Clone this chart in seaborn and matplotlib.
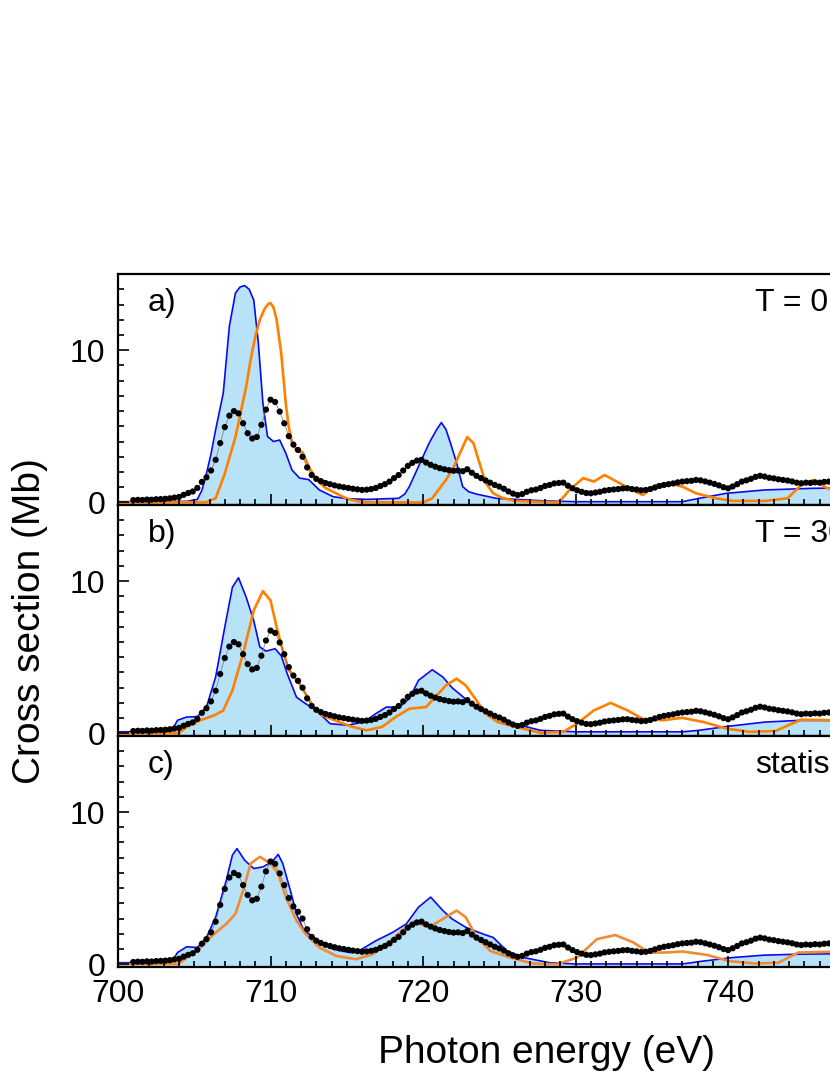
import numpy as np
import matplotlib
matplotlib.use("Agg")
import matplotlib.pyplot as plt
import seaborn as sns
from matplotlib.ticker import MultipleLocator

sns.set_theme(style="ticks")
plt.rcParams['font.family'] = ['Liberation Sans', 'DejaVu Sans']
for key in ['text.color', 'axes.labelcolor', 'xtick.color', 'ytick.color', 'axes.edgecolor']:
    plt.rcParams[key] = 'black'

# experiment (same in all panels), photon energy grid in eV and cross section in Mb
exp_x = np.round(np.arange(701.0, 746.95, 0.3), 2)
exp_y = [0.15, 0.17, 0.16, 0.19, 0.18, 0.21, 0.22, 0.24, 0.27, 0.32,
         0.36, 0.5, 0.62, 0.72, 0.95, 1.35, 1.65, 2.1, 2.8, 3.9,
         4.95, 5.7, 6.0, 5.85, 5.2, 4.55, 4.2, 4.3, 5.1, 6.1,
         6.75, 6.6, 5.97, 5.2, 4.35, 3.8, 3.45, 3.0, 2.3, 1.8,
         1.55, 1.4, 1.28, 1.2, 1.12, 1.05, 1.0, 0.95, 0.9, 0.86,
         0.82, 0.84, 0.88, 0.95, 1.08, 1.2, 1.37, 1.6, 1.8, 2.1,
         2.4, 2.6, 2.75, 2.8, 2.62, 2.47, 2.35, 2.25, 2.18, 2.12,
         2.08, 2.1, 2.05, 2.18, 1.95, 1.75, 1.6, 1.45, 1.3, 1.15,
         1.04, 0.9, 0.72, 0.58, 0.49, 0.55, 0.7, 0.8, 0.85, 0.95,
         1.08, 1.15, 1.25, 1.28, 1.3, 1.1, 0.93, 0.8, 0.7, 0.62,
         0.6, 0.65, 0.7, 0.78, 0.82, 0.85, 0.88, 0.92, 0.93, 0.88,
         0.85, 0.8, 0.82, 0.88, 0.98, 1.08, 1.15, 1.2, 1.25, 1.32,
         1.37, 1.4, 1.42, 1.48, 1.45, 1.38, 1.3, 1.22, 1.12, 1.0,
         0.93, 1.05, 1.2, 1.37, 1.45, 1.55, 1.68, 1.75, 1.7, 1.62,
         1.58, 1.52, 1.48, 1.44, 1.38, 1.3, 1.26, 1.3, 1.28, 1.32,
         1.3, 1.35, 1.37, 1.33]

# a) T = 0 K
blue_x_a = [700, 704.5, 705.2, 705.5, 705.8, 706.1, 706.4, 706.9, 707.3, 707.7, 708.0, 708.3,
            708.6, 708.9, 709.2, 709.5, 709.8, 710.2, 710.6, 711.0, 711.4, 711.9, 712.5, 713.2,
            714.1, 715.0, 716.3, 718.4, 718.8, 719.1, 719.7, 720.4, 720.9, 721.2, 721.5, 721.8,
            722.2, 722.6, 723.0, 723.5, 724.8, 726.1, 728.0, 730.0, 737.0, 738.1, 739.9, 742.4,
            745.6, 748.0]
blue_y_a = [0.05, 0.07, 0.2, 0.8, 1.9, 3.2, 4.77, 7.18, 11.57, 13.76, 14.15, 14.25,
            14.0, 13.3, 10.47, 6.53, 4.33, 4.0, 4.1, 3.24, 2.14, 1.6, 1.5, 0.82,
            0.38, 0.25, 0.2, 0.27, 0.55, 1.04, 2.36, 3.9, 4.8, 5.25, 4.8, 3.9,
            2.6, 1.04, 0.7, 0.55, 0.27, 0.2, 0.1, 0.05, 0.05, 0.27, 0.6, 0.82,
            0.93, 0.95]
orange_x_a = [700, 705.8, 706.4, 707.0, 707.7, 708.4, 708.7, 709.0, 709.3, 709.6, 709.85, 710.0,
              710.2, 710.4, 710.7, 711.0, 711.2, 711.4, 711.7, 712.1, 712.5, 713.0, 713.6, 714.3,
              715.0, 716.0, 720.0, 720.6, 721.5, 722.0, 722.4, 722.9, 723.3, 723.7, 724.1, 724.6,
              725.2, 726.0, 728.9, 729.6, 730.5, 731.2, 731.9, 732.7, 733.5, 734.4, 735.3, 736.1,
              737.0, 737.9, 739.2, 740.3, 742.4, 743.9, 744.8, 745.6, 746.3, 747.5]
orange_y_a = [0, 0.02, 0.27, 1.9, 4.3, 7.6, 9.4, 10.9, 12.0, 12.7, 13.05, 13.1,
              12.8, 12.0, 9.8, 6.5, 4.9, 4.0, 3.4, 3.3, 2.36, 1.5, 0.95, 0.6,
              0.25, 0.02, 0.0, 0.27, 1.48, 2.3, 3.2, 4.3, 3.9, 2.6, 1.3, 0.6,
              0.3, 0.1, 0.0, 0.82, 1.6, 1.37, 1.8, 1.37, 0.93, 0.49, 1.15, 1.26,
              1.04, 0.6, 0.27, 0.1, 0.1, 0.27, 1.15, 1.48, 1.04, 0.5]

# b) T = 300 K
blue_x_b = [700, 703.5, 703.9, 704.5, 705.2, 705.8, 706.4, 707.0, 707.5, 707.9, 708.4, 708.9,
            709.3, 709.7, 710.3, 710.7, 711.1, 711.7, 712.3, 713.0, 713.9, 715.0, 716.1, 716.9,
            717.6, 718.4, 719.1, 719.7, 720.6, 721.3, 721.9, 722.9, 723.9, 725.0, 726.1, 727.7,
            730.0, 737.0, 738.1, 739.9, 742.4, 744.6, 748.0]
blue_y_b = [0.1, 0.12, 0.86, 1.07, 1.1, 1.73, 3.7, 6.98, 9.6, 10.22, 8.95, 7.4,
            5.67, 5.4, 5.56, 5.1, 3.9, 2.38, 1.95, 1.51, 0.64, 0.53, 0.74, 1.29,
            1.73, 1.7, 2.28, 3.48, 4.18, 3.7, 3.0, 2.17, 1.51, 1.07, 0.6, 0.2,
            0.1, 0.1, 0.2, 0.45, 0.74, 0.85, 0.85]
orange_x_b = [700, 704.0, 704.5, 705.4, 706.3, 706.9, 707.5, 708.2, 708.9, 709.5, 710.0, 710.4,
              710.8, 711.2, 711.9, 712.3, 712.8, 713.4, 714.5, 715.4, 716.3, 717.3, 718.2, 719.1,
              720.2, 720.8, 721.5, 722.2, 722.8, 723.5, 724.1, 724.9, 726.1, 727.7, 729.2, 730.1,
              731.2, 732.3, 733.4, 734.4, 735.7, 737.0, 738.4, 739.9, 741.4, 743.1, 744.2, 744.8,
              747.5]
orange_y_b = [0, 0.02, 0.42, 0.86, 1.18, 1.5, 2.82, 5.23, 8.08, 9.34, 8.73, 6.98,
              5.45, 4.14, 3.26, 2.6, 1.73, 1.18, 0.74, 0.42, 0.2, 0.42, 1.07, 1.62,
              1.73, 2.38, 3.15, 3.59, 3.15, 2.17, 1.29, 0.74, 0.42, 0.04, 0.1, 0.64,
              1.51, 2.0, 1.51, 0.96, 0.86, 1.02, 0.74, 0.31, 0.1, 0.15, 0.64, 0.9,
              0.85]

# c) statistical
blue_x_c = [700, 703.5, 703.9, 704.5, 705.2, 705.8, 706.4, 707.1, 707.5, 707.8, 708.3, 708.9,
            709.5, 710.1, 710.5, 710.8, 711.3, 711.7, 712.2, 713.0, 714.1, 715.2, 715.8, 716.9,
            718.0, 718.9, 719.7, 720.5, 721.3, 721.9, 722.8, 723.9, 724.6, 725.5, 726.6, 728.3,
            730.0, 737.0, 738.3, 740.3, 742.4, 744.6, 748.0]
blue_y_c = [0.1, 0.12, 0.77, 1.15, 1.1, 1.76, 3.09, 5.52, 7.17, 7.6, 6.84, 6.29,
            6.4, 6.73, 7.22, 6.62, 4.85, 3.31, 2.2, 1.65, 0.99, 0.77, 0.88, 1.54,
            2.09, 2.65, 3.75, 4.41, 3.53, 2.98, 2.43, 2.0, 1.76, 0.88, 0.44, 0.1,
            0.02, 0.02, 0.2, 0.44, 0.6, 0.66, 0.7]
orange_x_c = [700, 704.0, 704.5, 705.4, 706.3, 707.1, 707.7, 708.2, 708.7, 709.3, 710.0, 710.5,
              711.0, 711.7, 712.3, 713.2, 714.3, 715.6, 716.7, 717.8, 718.9, 719.4, 720.4, 721.3,
              722.2, 722.8, 723.5, 724.4, 725.7, 727.2, 728.8, 730.1, 731.4, 732.6, 733.8, 734.8,
              735.9, 737.0, 738.6, 740.1, 741.8, 743.3, 744.6, 747.5]
orange_y_c = [0, 0.02, 0.44, 1.1, 1.99, 2.65, 3.31, 4.85, 6.62, 7.06, 6.62, 5.96,
              4.41, 2.87, 1.99, 1.1, 0.55, 0.33, 0.66, 1.48, 2.43, 2.8, 2.43, 2.98,
              3.53, 3.09, 1.8, 0.88, 0.44, 0.05, 0.0, 0.44, 1.65, 1.92, 1.43, 0.77,
              0.77, 0.84, 0.62, 0.2, 0.05, 0.1, 0.77, 0.84]

panel_tags = ["a)", "b)", "c)"]
panel_notes = ["T = 0 K", "T = 300 K", "statistical"]
panels = [(blue_x_a, blue_y_a, orange_x_a, orange_y_a, "#ff8000"),
          (blue_x_b, blue_y_b, orange_x_b, orange_y_b, "#ff8000"),
          (blue_x_c, blue_y_c, orange_x_c, orange_y_c, "#f28a30")]

fig = plt.figure(figsize=(8.3, 10.75), dpi=100)
left, width, h = 0.1422, 1.029, 0.2148
bottoms = [0.5302, 0.3154, 0.1006]

for i, (bx, by, ox, oy, ocol) in enumerate(panels):
    ax = fig.add_axes([left, bottoms[i], width, h])
    ax.set_axisbelow(False)
    ax.fill_between(bx, by, -1, color="#b7e2f8", lw=0)
    sns.lineplot(x=bx, y=by, ax=ax, color="#0a0af0", lw=1.2)
    sns.lineplot(x=ox, y=oy, ax=ax, color=ocol, lw=1.9)
    sns.lineplot(x=exp_x, y=exp_y, ax=ax, color="0.45", lw=0.5)
    sns.scatterplot(x=exp_x, y=exp_y, ax=ax, color="black", s=20,
                    edgecolor="none", zorder=5)
    ax.set_xlim(700, 756)
    ax.set_ylim(-0.17, 15.0)
    ax.xaxis.set_major_locator(MultipleLocator(10))
    ax.xaxis.set_minor_locator(MultipleLocator(1))
    ax.yaxis.set_major_locator(MultipleLocator(10))
    ax.yaxis.set_minor_locator(MultipleLocator(1))
    ax.tick_params(which="both", direction="in", width=1.2, labelsize=23,
                   top=False, right=False, zorder=6)
    ax.tick_params(which="major", length=8, pad=9)
    ax.tick_params(which="minor", length=4.5)
    for sp in ax.spines.values():
        sp.set_linewidth(1.6)
        sp.set_zorder(7)
    ax.set_ylabel("")
    if i < 2:
        ax.tick_params(labelbottom=False)
    ax.text(0.035, 0.876, panel_tags[i], transform=ax.transAxes,
            fontsize=23, va="center", ha="left")
    ax.text(0.746, 0.876, panel_notes[i], transform=ax.transAxes,
            fontsize=23, va="center", ha="left")

fig.text(546 / 830, 1 - 1063 / 1075, "Photon energy (eV)", fontsize=28,
         ha="center", va="baseline")
fig.text(30 / 830, 1 - 621 / 1075, "Cross section (Mb)", fontsize=28,
         ha="center", va="center", rotation=90)

fig.savefig("out.png", dpi=100)
